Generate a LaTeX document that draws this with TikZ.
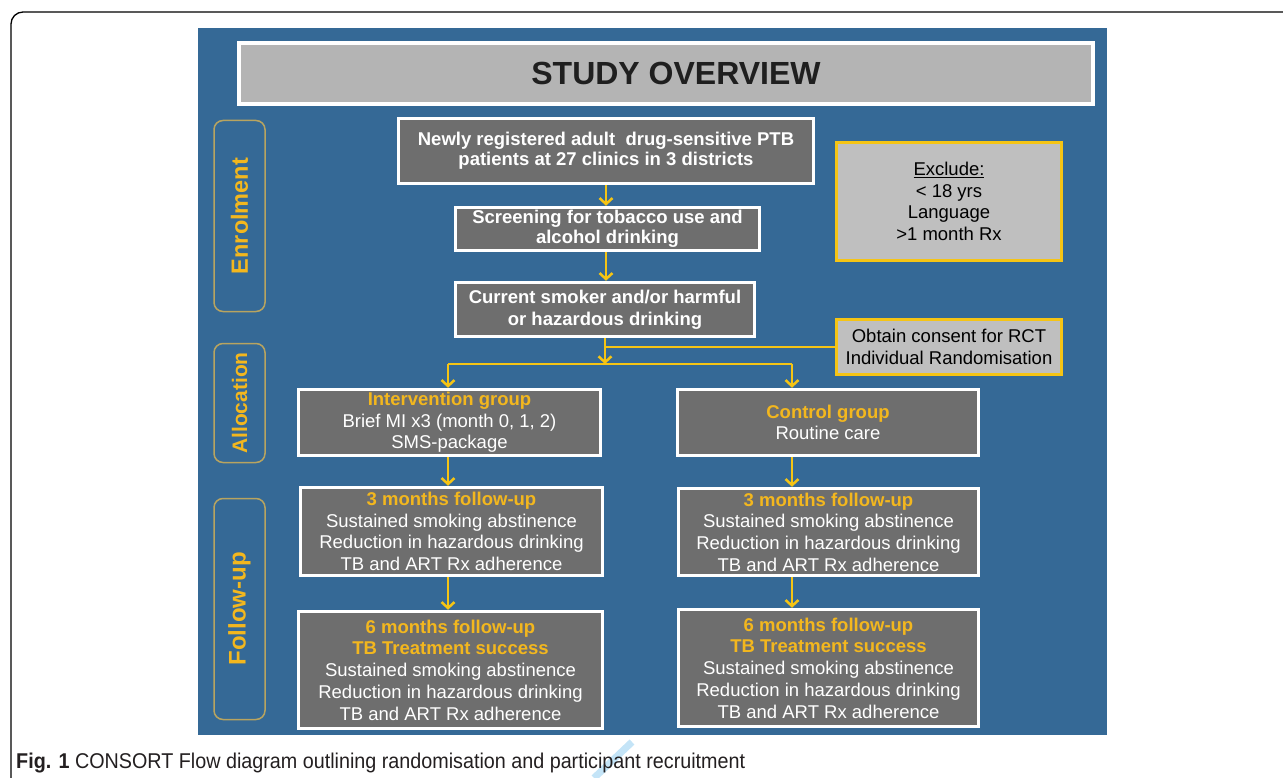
\documentclass[tikz,border=0pt]{standalone}
\usepackage{graphicx}
\usepackage{fontspec}
\setmainfont{Liberation Sans}
\usetikzlibrary{arrows.meta}

\definecolor{panelblue}{RGB}{53,105,150}
\definecolor{boxgray}{RGB}{110,110,110}
\definecolor{titlegray}{RGB}{180,180,180}
\definecolor{exclgray}{RGB}{191,191,191}
\definecolor{lineyellow}{RGB}{245,196,20}
\definecolor{textyellow}{RGB}{243,183,30}
\definecolor{phaseborder}{RGB}{184,164,96}
\definecolor{captiontext}{RGB}{35,31,32}
\definecolor{markblue}{RGB}{196,228,247}

\newcommand{\hl}[1]{{\bfseries\color{textyellow}#1}}

\begin{document}
\begin{tikzpicture}[x=1pt, y=-1pt,
    graybox/.style={draw=white, line width=3.5pt, fill=boxgray, text=white, align=center, inner sep=0pt, font=\fontsize{18.5}{21.7}\selectfont},
    yellowbox/.style={draw=lineyellow, line width=3pt, fill=exclgray, text=black, align=center, inner sep=0pt, font=\fontsize{18.5}{21.5}\selectfont},
    phase/.style={draw=phaseborder, line width=1.5pt, rounded corners=9pt, minimum height=51, rotate=90, text=textyellow, inner sep=0pt},
    flow/.style={draw=lineyellow, line width=2.5pt},
    arr/.style={flow, -{Straight Barb[length=6pt, width=13pt]}},
]
    \useasboundingbox (0,0) rectangle (1283,778);

    \coordinate (split) at (605,364);
    \coordinate (leftcol) at (448,364);
    \coordinate (rightcol) at (792,364);

    % Frame and panel
    \draw[line width=1.3pt, rounded corners=12pt] (11,778) |- (1283,12);
    \fill[panelblue] (198,28) rectangle (1107,735);

    % Title
    \node[draw=white, line width=4pt, fill=titlegray, minimum width=854, minimum height=61, font=\bfseries\fontsize{32}{32}\selectfont, text=black!88] (title) at (666,73.5) {\hspace*{20pt}STUDY OVERVIEW};

    % Phases
    \node[phase, minimum width=191, font=\bfseries\fontsize{23.5}{23.5}\selectfont] (enrol) at (239.5,216) {Enrolment};
    \node[phase, minimum width=119, font=\bfseries\fontsize{21}{21}\selectfont] (alloc) at (239.5,403) {Allocation};
    \node[phase, minimum width=221, font=\bfseries\fontsize{24}{24}\selectfont] (follow) at (239.5,609) {Follow-up};

    % Enrolment boxes
    \node[graybox, minimum width=415, minimum height=65, font=\bfseries\fontsize{18.5}{20}\selectfont] (patients) at (606,151) {Newly registered adult\ \ drug-sensitive PTB\\patients at 27 clinics in 3 districts};
    \node[graybox, minimum width=304, minimum height=43, font=\bfseries\fontsize{18.5}{20}\selectfont] (screening) at (607.5,229) {Screening for tobacco use and\\alcohol drinking};
    \node[graybox, minimum width=299, minimum height=54, font=\bfseries\fontsize{18.5}{22}\selectfont] (current) at (605,309.5) {Current smoker and/or harmful\\or hazardous drinking};

    \node[yellowbox, minimum width=225, minimum height=118] (exclude) at (949,201.5) {\underline{Exclude:}\\< 18 yrs\\Language\\>1 month Rx};
    \node[yellowbox, minimum width=225, minimum height=55] (consent) at (949,347) {Obtain consent for RCT\\Individual Randomisation};

    % Allocation boxes
    \node[graybox, minimum width=302, minimum height=66] (interv) at (449.5,422.5) {\hl{Intervention group}\\Brief MI x3 (month 0, 1, 2)\\SMS-package};
    \node[graybox, minimum width=301, minimum height=66] (control) at (828,422.5) {\hl{Control group}\\Routine care};

    % Follow-up boxes
    \node[graybox, minimum width=302, minimum height=88] (intthree) at (451.5,531.5) {\hl{3 months follow-up}\\Sustained smoking abstinence\\Reduction in hazardous drinking\\TB and ART Rx adherence};
    \node[graybox, minimum width=300, minimum height=87] (ctrlthree) at (828.5,532) {\hl{3 months follow-up}\\Sustained smoking abstinence\\Reduction in hazardous drinking\\TB and ART Rx adherence};

    \node[graybox, minimum width=304, minimum height=117] (intsix) at (450.5,670) {\hl{6 months follow-up}\\\hl{TB Treatment success}\\Sustained smoking abstinence\\Reduction in hazardous drinking\\TB and ART Rx adherence};
    \node[graybox, minimum width=300, minimum height=117] (ctrlsix) at (828.5,668) {\hl{6 months follow-up}\\\hl{TB Treatment success}\\Sustained smoking abstinence\\Reduction in hazardous drinking\\TB and ART Rx adherence};

    % Arrows
    \draw[arr] (patients.south) -- (patients.south |- screening.north);
    \draw[arr] (patients.south |- screening.south) -- (patients.south |- current.north);
    \draw[arr] (current.south) -- (current.south |- split);
    \draw[flow] (current.south |- consent.west) -- (consent.west);
    \draw[flow] (leftcol) -- (rightcol);
    \draw[arr] (leftcol) -- (leftcol |- interv.north);
    \draw[arr] (rightcol) -- (rightcol |- control.north);
    \draw[arr] (leftcol |- interv.south) -- (leftcol |- intthree.north);
    \draw[arr] (rightcol |- control.south) -- (rightcol |- ctrlthree.north);
    \draw[arr] (leftcol |- intthree.south) -- (leftcol |- intsix.north);
    \draw[arr] (rightcol |- ctrlthree.south) -- (rightcol |- ctrlsix.north);

    % Caption
    \draw[markblue, line width=7pt] (594,778) -- (632,742);
    \node[anchor=base west, inner sep=0pt, text=captiontext, font=\fontsize{20}{20}\selectfont] (caption) at (16,768) {\resizebox{729pt}{15.5pt}{\textbf{Fig. 1} CONSORT Flow diagram outlining randomisation and participant recruitment}};

\end{tikzpicture}
\end{document}
